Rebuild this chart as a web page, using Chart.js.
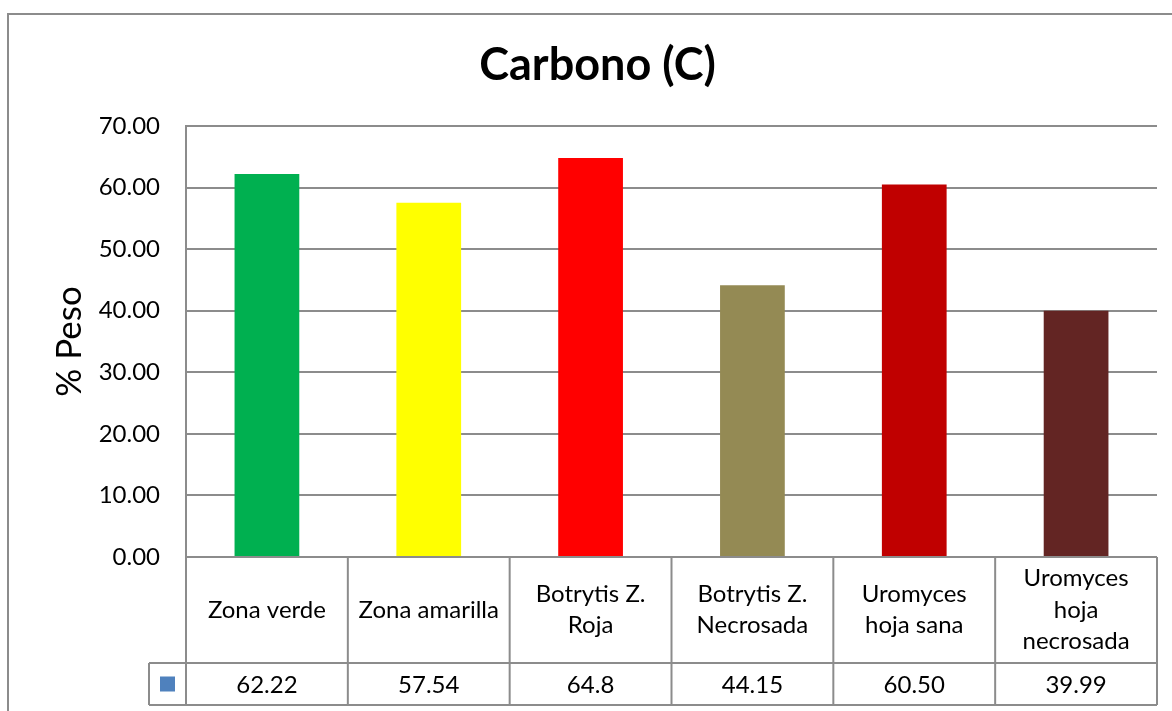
<!DOCTYPE html>
<html>
<head>
<meta charset="utf-8">
<script src="https://cdn.jsdelivr.net/npm/chart.js@4/dist/chart.umd.min.js"></script>
<style>
  html, body { margin: 0; padding: 0; background: #fff; }
  #wrap { width: 1172px; height: 711px; }
</style>
</head>
<body>
<div id="wrap"><canvas id="carbonoChart"></canvas></div>
<script>
// ====== DATA ======
const categories = [
    ['Zona verde'],
    ['Zona amarilla'],
    ['Botrytis Z.', 'Roja'],
    ['Botrytis Z.', 'Necrosada'],
    ['Uromyces', 'hoja sana'],
    ['Uromyces', 'hoja', 'necrosada']
];
const carbonValues = [62.22, 57.54, 64.8, 44.15, 60.50, 39.99];
const tableLabels = ['62.22', '57.54', '64.8', '44.15', '60.50', '39.99'];
const barColors = ['#00B050', '#FFFF00', '#FF0000', '#948A54', '#C00000', '#632523'];
const yTicks = [0, 10, 20, 30, 40, 50, 60, 70];
// ==================

const FONT = 'Lato, "Liberation Sans", sans-serif';
const LINE = '#8c8c8c';

// bingkai luar chart
const frameBorder = {
    id: 'frameBorder',
    afterDraw(chart) {
        const c = chart.ctx;
        c.save();
        c.strokeStyle = LINE;
        c.lineWidth = 2;
        c.strokeRect(8, 14, 1200, 800);
        c.restore();
    }
};

// tabel data di bawah sumbu x
const dataTable = {
    id: 'dataTable',
    afterDraw(chart) {
        const c = chart.ctx;
        const area = chart.chartArea;
        const xs = chart.scales.x;
        const n = categories.length;
        const colW = (area.right - area.left) / n;
        const top = area.bottom;
        const mid = top + 106;
        const bot = mid + 42;
        const legendLeft = 149;

        c.save();
        c.strokeStyle = LINE;
        c.lineWidth = 2;
        c.beginPath();
        // garis horizontal
        c.moveTo(area.left, top); c.lineTo(area.right, top);
        c.moveTo(legendLeft, mid); c.lineTo(area.right, mid);
        c.moveTo(legendLeft, bot); c.lineTo(area.right, bot);
        // garis vertikal
        for (let i = 0; i <= n; i++) {
            const x = area.left + i * colW;
            c.moveTo(x, top); c.lineTo(x, bot);
        }
        c.moveTo(legendLeft, mid); c.lineTo(legendLeft, bot);
        c.stroke();

        // kotak legenda
        c.fillStyle = '#4F81BD';
        const cx = (legendLeft + area.left) / 2;
        const cy = (mid + bot) / 2;
        c.fillRect(cx - 7.5, cy - 7.5, 15, 15);

        // teks
        c.fillStyle = '#000';
        c.font = '24px ' + FONT;
        c.textAlign = 'center';
        c.textBaseline = 'middle';
        const lh = 31.5;
        categories.forEach((lines, i) => {
            const x = xs.getPixelForValue(i);
            const y0 = (top + mid) / 2 - (lines.length - 1) * lh / 2;
            lines.forEach((t, j) => c.fillText(t, x, y0 + j * lh));
            c.fillText(tableLabels[i], x, cy + 1);
        });
        c.restore();
    }
};

const ctx = document.getElementById('carbonoChart').getContext('2d');
new Chart(ctx, {
    type: 'bar',
    data: {
        labels: categories.map(l => l.join(' ')),
        datasets: [{
            label: 'Carbono',
            data: carbonValues,
            backgroundColor: barColors,
            borderWidth: 0,
            barPercentage: 0.4,
            categoryPercentage: 1
        }]
    },
    options: {
        responsive: true,
        maintainAspectRatio: false,
        animation: false,
        layout: { padding: { left: 38, right: 15, top: 0, bottom: 154 } },
        plugins: {
            legend: { display: false },
            tooltip: { enabled: false },
            title: {
                display: true,
                text: 'Carbono (C)',
                color: '#000',
                font: { family: FONT, size: 45, weight: 'bold' },
                padding: { top: 38, bottom: 34 }
            }
        },
        scales: {
            x: { display: false },
            y: {
                min: 0,
                max: 70,
                afterBuildTicks: (s) => { s.ticks = yTicks.map(v => ({ value: v })); },
                afterFit: (s) => { s.width = 148; },
                ticks: {
                    color: '#000',
                    font: { family: FONT, size: 24 },
                    padding: 26,
                    callback: (v) => Number(v).toFixed(2)
                },
                grid: { color: LINE, lineWidth: 2, drawTicks: false },
                border: { display: true, color: LINE, width: 2 },
                title: {
                    display: true,
                    text: '% Peso',
                    color: '#000',
                    font: { family: FONT, size: 35 },
                    padding: { top: 11, bottom: 0 }
                }
            }
        }
    },
    plugins: [frameBorder, dataTable]
});
</script>
</body>
</html>
